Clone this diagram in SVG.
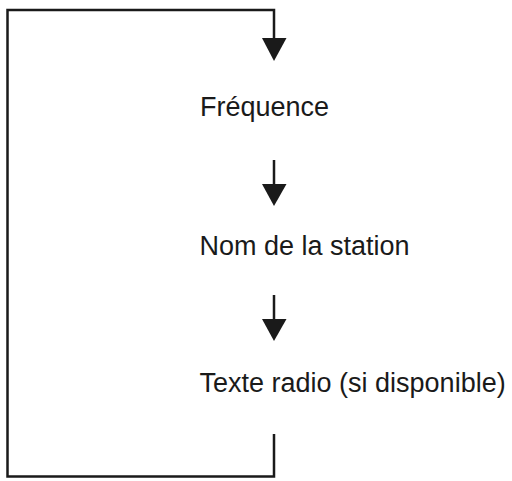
<svg xmlns="http://www.w3.org/2000/svg" width="512" height="481" viewBox="0 0 512 481">
<style>
.ln{fill:none;stroke:#1a1a1a;stroke-width:2.5;stroke-linecap:butt;stroke-linejoin:miter}
.hd{fill:#1a1a1a}
.lb{font-family:"Liberation Sans",Arial,sans-serif;font-size:27px;fill:#1a1a1a}
</style>
<rect width="512" height="481" fill="#ffffff"/>
<g id="connectors">
<path class="ln" d="M274,434 V476.5 H7.5 V10 H274 V40"/>
<polygon class="hd" points="262,38 286.5,38 274,61"/>
<path class="ln" d="M274,160 V186"/>
<polygon class="hd" points="262,184 286.5,184 274,206"/>
<path class="ln" d="M274,295 V321"/>
<polygon class="hd" points="262,319 286.5,319 274,341"/>
</g>
<g id="node-frequence"><text class="lb" x="200" y="116">Fréquence</text></g>
<g id="node-station"><text class="lb" x="199.5" y="255">Nom de la station</text></g>
<g id="node-texte"><text class="lb" x="199.5" y="392">Texte radio (si disponible)</text></g>
</svg>
